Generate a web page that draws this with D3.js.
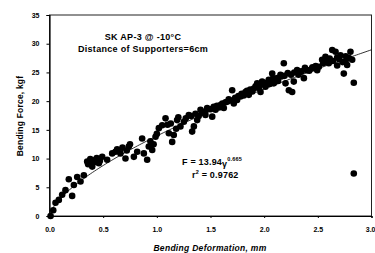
<!DOCTYPE html>
<html><head><meta charset="utf-8">
<script src="https://cdn.jsdelivr.net/npm/d3@7"></script>
<style>
html,body{margin:0;padding:0;background:#fff;}
svg text{font-family:"Liberation Sans",Arial,sans-serif;font-weight:bold;fill:#000;}
</style></head>
<body>
<svg id="c" width="375" height="253"></svg>
<script>
// Measured points: bending deformation (mm) and bending force (kgf)
const deformation = [0.01,0.035,0.056,0.087,0.118,0.149,0.180,0.211,0.227,0.258,0.289,0.320,0.351,0.36,0.38,0.398,0.41,0.429,0.44,0.460,0.47,0.491,0.537,0.584,0.615,0.63,0.661,0.68,0.708,0.72,0.739,0.75,0.786,0.817,0.863,0.879,0.910,0.925,0.94,0.957,0.97,0.988,1.0,1.019,1.05,1.081,1.10,1.112,1.13,1.143,1.158,1.18,1.189,1.20,1.220,1.252,1.27,1.298,1.32,1.329,1.345,1.36,1.376,1.39,1.407,1.42,1.45,1.453,1.469,1.50,1.516,1.53,1.547,1.56,1.58,1.593,1.61,1.624,1.64,1.655,1.67,1.69,1.702,1.717,1.73,1.748,1.76,1.780,1.79,1.81,1.826,1.84,1.857,1.87,1.89,1.904,1.92,1.935,1.95,1.966,1.981,1.99,2.012,2.02,2.043,2.05,2.075,2.08,2.09,2.121,2.13,2.152,2.16,2.183,2.19,2.199,2.22,2.23,2.25,2.261,2.276,2.28,2.307,2.32,2.339,2.35,2.370,2.38,2.401,2.42,2.447,2.45,2.48,2.494,2.51,2.54,2.55,2.571,2.58,2.602,2.61,2.634,2.64,2.665,2.68,2.680,2.70,2.711,2.73,2.742,2.758,2.76,2.773,2.79,2.804,2.82,2.835,2.835];
const force = [0.0,1.0,2.3,2.8,3.7,4.5,6.4,3.5,5.4,6.8,6.0,7.1,9.5,9.0,9.9,8.6,9.3,9.8,10.1,9.2,9.6,10.3,9.8,10.9,11.2,11.6,10.9,11.9,10.0,11.4,12.1,12.5,10.3,11.2,13.5,10.9,9.8,12.1,13.0,11.5,12.5,13.8,14.3,15.3,15.8,17.0,15.9,14.4,16.1,12.9,14.1,15.2,16.7,17.2,15.6,16.4,17.0,17.6,17.4,14.7,15.6,17.8,16.7,17.4,18.5,18.0,18.2,17.6,18.8,18.6,17.3,19.0,18.5,19.2,18.9,19.3,19.6,18.8,19.8,19.9,20.3,20.1,21.9,19.6,20.6,20.2,20.9,20.8,21.3,21.0,21.6,21.8,21.1,22.0,21.7,22.2,22.6,23.1,22.3,21.6,23.4,22.9,22.5,23.2,23.7,23.0,24.8,23.9,23.1,24.0,23.5,24.6,24.3,26.6,24.4,23.1,24.9,21.9,24.6,21.6,23.4,25.0,25.4,24.6,25.1,25.2,24.0,25.8,25.4,25.3,25.7,25.9,26.1,25.4,26.0,27.2,26.6,27.7,27.0,26.6,27.4,28.9,27.0,28.6,27.6,26.2,27.3,28.0,26.8,24.8,26.9,27.8,26.3,27.5,28.6,27.2,23.2,7.4];
const xTicks = [0.0,0.5,1.0,1.5,2.0,2.5,3.0];
const yTicks = [0,5,10,15,20,25,30,35];
const fitCoef = 13.94, fitExp = 0.665;
const titleLines = ["SK AP-3 @ -10°C","Distance of Supporters=6cm"];

const svg = d3.select("#c");
const x = d3.scaleLinear().domain([0,3]).range([49.5,371.5]);
const y = d3.scaleLinear().domain([0,35]).range([216,15]);

// frame
svg.append("rect").attr("x",x(0)).attr("y",y(35)).attr("width",x(3)-x(0)).attr("height",y(0)-y(35))
  .attr("fill","none").attr("stroke","#222").attr("stroke-width",1);

// axes
const xa = svg.append("g").attr("transform",`translate(0,${y(0)})`)
  .call(d3.axisBottom(x).tickValues(xTicks).tickFormat(d3.format(".1f")).tickSize(2).tickPadding(9));
const ya = svg.append("g").attr("transform",`translate(${x(0)},0)`)
  .call(d3.axisLeft(y).tickValues(yTicks).tickFormat(d3.format("d")).tickSize(3).tickPadding(7));
[xa,ya].forEach(g=>{
  g.select(".domain").attr("stroke","#000").attr("stroke-width",1.2);
  g.selectAll(".tick line").attr("stroke","#000");
  g.selectAll("text").attr("font-size",7).attr("font-family","Liberation Sans, Arial, sans-serif").attr("font-weight","bold").attr("fill","#000");
});
// keep the last x label inside the page
xa.selectAll(".tick").filter(d=>d===3).select("text").attr("text-anchor","end").attr("dx",3.5);

// points
svg.append("g").selectAll("circle").data(deformation.map((d,i)=>[d,force[i]])).join("circle")
  .attr("cx",d=>x(d[0])).attr("cy",d=>y(d[1])).attr("r",3.3).attr("fill","#000");

// fit line
const fitX = d3.range(0,3.0001,0.02);
svg.append("path").datum(fitX)
  .attr("d",d3.line().x(d=>x(d)).y(d=>y(fitCoef*Math.pow(d,fitExp))))
  .attr("fill","none").attr("stroke","#000").attr("stroke-width",0.8);

// title text
svg.append("text").attr("x",143).attr("y",40).attr("text-anchor","middle").attr("font-size",9).attr("letter-spacing",0.3).text(titleLines[0]);
svg.append("text").attr("x",143).attr("y",52).attr("text-anchor","middle").attr("font-size",9).attr("letter-spacing",0.3).text(titleLines[1]);

// equation
const eq = svg.append("text").attr("x",182).attr("y",165).attr("font-size",9).attr("letter-spacing",0.2);
eq.append("tspan").text("F = 13.94");
eq.append("tspan").attr("dy",1.5).text("γ");
eq.append("tspan").attr("dy",-6).attr("font-size",5.5).text("0.665");
const r2 = svg.append("text").attr("x",192).attr("y",178).attr("font-size",9).attr("letter-spacing",0.2);
r2.append("tspan").text("r");
r2.append("tspan").attr("dy",-4).attr("font-size",5.5).text("2");
r2.append("tspan").attr("dy",4).text(" = 0.9762");

// axis titles
svg.append("text").attr("x",210).attr("y",251).attr("text-anchor","middle").attr("font-size",8.5)
  .attr("font-style","italic").attr("letter-spacing",0.3).text("Bending Deformation, mm");
svg.append("text").attr("transform","translate(23,116) rotate(-90)").attr("text-anchor","middle")
  .attr("font-size",8.5).attr("letter-spacing",0.2).text("Bending Force, kgf");
</script>
</body></html>
